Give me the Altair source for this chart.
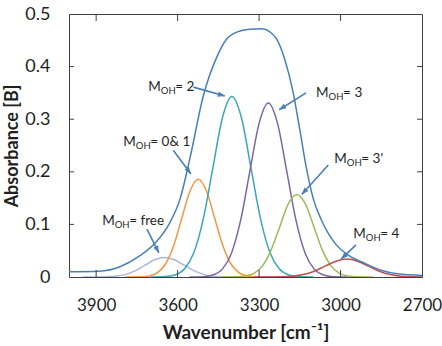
import math
import altair as alt
import pandas as pd

# ---- measured spectrum (wavenumber cm-1 / absorbance) ----
total_wn = [4000, 3890, 3810, 3740, 3680, 3630, 3590, 3555, 3505, 3455, 3420, 3380,
            3335, 3290, 3260, 3235, 3205, 3175, 3150, 3125, 3100, 3070, 3020, 2970,
            2910, 2850, 2790, 2700]
total_ab = [0.010, 0.011, 0.020, 0.040, 0.066, 0.102, 0.150, 0.225, 0.345, 0.419, 0.452, 0.466,
            0.471, 0.472, 0.466, 0.452, 0.413, 0.352, 0.280, 0.205, 0.148, 0.108, 0.064, 0.041,
            0.026, 0.013, 0.006, 0.003]

# ---- fitted OH bands ----
free_wn = [3950, 3900, 3830, 3790, 3755, 3720, 3685, 3648, 3612, 3576, 3540, 3505, 3470, 3400, 3350]
free_ab = [0.0, 0.0001, 0.0016, 0.005, 0.012, 0.0224, 0.0327, 0.037, 0.0327, 0.0224, 0.012, 0.005,
           0.0016, 0.0001, 0.0]

m01_wn = [3794, 3734, 3704, 3674, 3644, 3614, 3584, 3554, 3524, 3494, 3464, 3434, 3404, 3374,
          3344, 3314, 3254]
m01_ab = [0.0, 0.0004, 0.0021, 0.0082, 0.0252, 0.0604, 0.1128, 0.1641, 0.186, 0.1641, 0.1128,
          0.0604, 0.0252, 0.0082, 0.0021, 0.0004, 0.0]

m2_wn = [3700, 3645, 3610, 3575, 3540, 3505, 3470, 3435, 3400, 3365, 3330, 3295, 3260, 3225,
         3190, 3155, 3100]
m2_ab = [0.0, 0.0008, 0.0038, 0.0151, 0.0464, 0.1114, 0.2080, 0.3027, 0.343, 0.3027, 0.2080,
         0.1114, 0.0464, 0.0151, 0.0038, 0.0008, 0.0]

m3_wn = [3556, 3504, 3470, 3436, 3402, 3368, 3334, 3300, 3266, 3232, 3198, 3164, 3130, 3096,
         3062, 3028, 2976]
m3_ab = [0.0, 0.0007, 0.0037, 0.0145, 0.0448, 0.1075, 0.2008, 0.2921, 0.331, 0.2921, 0.2008,
         0.1075, 0.0448, 0.0145, 0.0037, 0.0007, 0.0]

m3p_wn = [3441, 3382, 3350, 3319, 3287, 3256, 3224, 3193, 3161, 3129, 3098, 3067, 3035, 3004,
          2972, 2941, 2881]
m3p_ab = [0.0, 0.0003, 0.0017, 0.0069, 0.0212, 0.0510, 0.0952, 0.1386, 0.157, 0.1386, 0.0952,
          0.0510, 0.0212, 0.0069, 0.0017, 0.0003, 0.0]

m4_wn = [3317, 3257, 3217, 3177, 3137, 3097, 3057, 3017, 2977, 2937, 2897, 2857, 2817, 2777,
         2737, 2700]
m4_ab = [0.0, 0.0001, 0.0004, 0.0015, 0.0046, 0.0110, 0.0206, 0.0300, 0.034, 0.0300, 0.0206,
         0.0110, 0.0046, 0.0015, 0.0004, 0.0001]

# ---- annotations: label anchor and arrow (tail -> tip) ----
label_value = ["free", "0& 1", "2", "3", "3'", "4"]
label_wn = [3878, 3800, 3708, 3090, 3023, 2953]
label_ab = [0.098, 0.249, 0.353, 0.343, 0.216, 0.074]
arrow_tail_wn = [3713, 3616, 3542, 3127, 3045, 2943]
arrow_tail_ab = [0.091, 0.241, 0.361, 0.350, 0.213, 0.061]
arrow_tip_wn = [3669, 3551, 3426, 3226, 3143, 2998]
arrow_tip_ab = [0.046, 0.196, 0.344, 0.318, 0.157, 0.034]

# ---- axes ----
x_labels = [3900, 3600, 3300, 3000, 2700]
x_inner_ticks = [3900, 3600, 3300, 3000]
y_labels = [0, 0.1, 0.2, 0.3, 0.4, 0.5]
y_inner_ticks = [0.1, 0.2, 0.3, 0.4]

W, H = 353, 263
WN_MIN, WN_MAX = 2700, 4000
AB_MAX = 0.5
FONT = "Lato"
FRAME = "#404040"
TEXT = "#1f1f1f"
ARROW = "#4a7ebb"

bands = [
    ("free", free_wn, free_ab, "#a6b9d8"),
    ("0&1", m01_wn, m01_ab, "#f79646"),
    ("2", m2_wn, m2_ab, "#3aa8b8"),
    ("3", m3_wn, m3_ab, "#7e65a2"),
    ("3'", m3p_wn, m3p_ab, "#9bbb59"),
    ("4", m4_wn, m4_ab, "#c0504d"),
    ("total", total_wn, total_ab, "#4a7ebb"),
]
rows = []
for i, (name, wn, ab, _) in enumerate(bands):
    for w, a in zip(wn, ab):
        rows.append({"band": name, "order": i, "wn": w, "ab": a})
curves_df = pd.DataFrame(rows)

x_scale = alt.Scale(domain=[WN_MIN, WN_MAX], reverse=True, nice=False, zero=False)
y_scale = alt.Scale(domain=[0, AB_MAX], nice=False, zero=True)

x_axis = alt.Axis(
    values=x_labels, format="d", title="Wavenumber [cm⁻¹]", grid=False, ticks=False,
    tickSize=0, domain=False, labelFont=FONT, labelFontSize=17, labelColor=TEXT,
    labelPadding=33, labelBaseline="alphabetic", labelFlush=False, labelOverlap=False,
    titleFont=FONT, titleFontSize=19, titleFontWeight="bold", titleColor=TEXT,
    titleBaseline="alphabetic", titleY=61,
)
y_axis = alt.Axis(
    values=y_labels, title="Absorbance [B]", grid=False, ticks=False, tickSize=0,
    domain=False, labelFont=FONT, labelFontSize=18, labelColor=TEXT, labelPadding=19,
    labelExpr="datum.value == 0 ? '0' : format(datum.value, '.1f')",
    labelFlush=False, labelOverlap=False,
    titleFont=FONT, titleFontSize=18, titleFontWeight="bold", titleColor=TEXT,
    titleAngle=270, titleBaseline="alphabetic", titleAlign="center",
    titleX=-52, titleY=131.5,
)


def xq(field):
    return alt.X(field, type="quantitative", scale=x_scale, axis=x_axis)


def yq(field):
    return alt.Y(field, type="quantitative", scale=y_scale, axis=y_axis)


curves = alt.Chart(curves_df).mark_line(
    interpolate="monotone", strokeWidth=1.5, clip=True
).encode(
    x=xq("wn"),
    y=yq("ab"),
    color=alt.Color(
        "band:N",
        scale=alt.Scale(domain=[b[0] for b in bands], range=[b[3] for b in bands]),
        legend=None,
    ),
)

# inward tick marks on all four sides of the frame
xt_df = pd.DataFrame({"wn": x_inner_ticks})
yt_df = pd.DataFrame({"ab": y_inner_ticks})
ticks_bottom = alt.Chart(xt_df).mark_rule(color=FRAME, strokeWidth=1).encode(
    x=xq("wn"), y=alt.value(H), y2=alt.value(H - 7))
ticks_top = alt.Chart(xt_df).mark_rule(color=FRAME, strokeWidth=1).encode(
    x=xq("wn"), y=alt.value(0), y2=alt.value(7))
ticks_left = alt.Chart(yt_df).mark_rule(color=FRAME, strokeWidth=1).encode(
    y=yq("ab"), x=alt.value(0), x2=alt.value(5))
ticks_right = alt.Chart(yt_df).mark_rule(color=FRAME, strokeWidth=1).encode(
    y=yq("ab"), x=alt.value(W - 5), x2=alt.value(W))

# annotation arrows
ann_rows = []
for i in range(len(label_value)):
    dx = (arrow_tail_wn[i] - arrow_tip_wn[i]) * W / (WN_MAX - WN_MIN)
    dy = (arrow_tail_ab[i] - arrow_tip_ab[i]) * H / AB_MAX
    ang = math.degrees(math.atan2(dx, -dy)) % 360
    ann_rows.append({
        "lw": label_wn[i], "la": label_ab[i],
        "rest": "= " + label_value[i],
        "w0": arrow_tail_wn[i], "a0": arrow_tail_ab[i],
        "w1": arrow_tip_wn[i], "a1": arrow_tip_ab[i],
        "ang": ang,
    })
ann_df = pd.DataFrame(ann_rows)

arrow_lines = alt.Chart(ann_df).mark_rule(color=ARROW, strokeWidth=1.6).encode(
    x=xq("w0"), x2="w1:Q", y=yq("a0"), y2="a1:Q",
)
arrow_heads = alt.Chart(ann_df).mark_point(
    shape="M0,0L0.75,2L-0.75,2Z", filled=True, color=ARROW, opacity=1, size=49, strokeWidth=0
).encode(
    x=xq("w1"), y=yq("a1"),
    angle=alt.Angle("ang:Q", scale=None),
)

lab_m = alt.Chart(ann_df).mark_text(
    text="M", align="left", baseline="alphabetic", font=FONT, fontSize=13.5, color=TEXT
).encode(x=xq("lw"), y=yq("la"))
lab_sub = alt.Chart(ann_df).mark_text(
    text="OH", align="left", baseline="alphabetic", font=FONT, fontSize=9.5, color=TEXT,
    dx=12.5, dy=3
).encode(x=xq("lw"), y=yq("la"))
lab_rest = alt.Chart(ann_df).mark_text(
    align="left", baseline="alphabetic", font=FONT, fontSize=13.5, color=TEXT, dx=27
).encode(x=xq("lw"), y=yq("la"), text="rest:N")

chart = alt.layer(
    curves, ticks_bottom, ticks_top, ticks_left, ticks_right,
    arrow_lines, arrow_heads, lab_m, lab_sub, lab_rest,
).properties(
    width=W, height=H,
    padding={"left": 69, "top": 14, "right": 20, "bottom": 69},
    autosize=alt.AutoSizeParams(type="none"),
    background="white",
).configure_view(stroke=FRAME, strokeWidth=1)

chart.save("out.html", embed_options={"renderer": "svg", "actions": False})
